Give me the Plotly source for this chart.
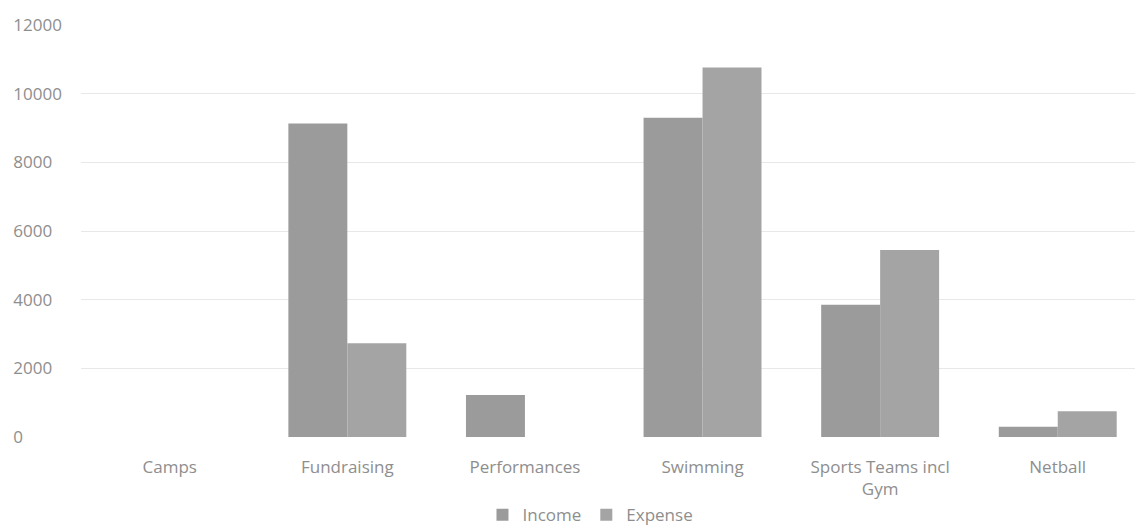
import plotly.graph_objects as go

# Activity income and expense per category
categories = ["Camps", "Fundraising", "Performances", "Swimming", "Sports Teams incl<br>Gym", "Netball"]
income = [0, 9130, 1220, 9300, 3850, 300]
expense = [0, 2730, 0, 10760, 5450, 750]
y_ticks = [0, 2000, 4000, 6000, 8000, 10000, 12000]

W, H = 1136, 530
FONT = "Open Sans"
TEXT = "#8e8e8e"
FS = 17

# left-aligned value labels: pad with figure spaces to a common width
widest = max(len(str(v)) for v in y_ticks)
y_text = [str(v) + "\u2007" * (widest - len(str(v))) for v in y_ticks]

fig = go.Figure()
fig.add_trace(go.Bar(name="Income", x=categories, y=income,
                     marker=dict(color="#9b9b9b", line=dict(width=0))))
fig.add_trace(go.Bar(name="Expense", x=categories, y=expense,
                     marker=dict(color="#a4a4a4", line=dict(width=0))))

fig.update_layout(
    width=W, height=H,
    margin=dict(l=0, r=1, t=25, b=93, autoexpand=False),
    paper_bgcolor="white", plot_bgcolor="white",
    font=dict(family=FONT, size=FS, color=TEXT),
    barmode="group", bargap=0.336, bargroupgap=0,
    showlegend=True,
    legend=dict(orientation="h", x=591 / W, xanchor="center",
                y=-0.19, yanchor="middle",
                font=dict(family=FONT, size=FS, color=TEXT),
                itemwidth=30, tracegroupgap=0),
    xaxis=dict(domain=[81 / W, 1], range=[-0.5, 5.435], automargin=False,
               showgrid=False, zeroline=False, showline=False,
               ticks="", ticklabelstandoff=18,
               tickfont=dict(size=FS, color=TEXT)),
    yaxis=dict(range=[0, 12000], tickvals=y_ticks, ticktext=y_text,
               anchor="free", position=62 / W, automargin=False,
               showgrid=True, gridcolor="#e8e8e8", gridwidth=1,
               zeroline=False, showline=False, ticks="",
               ticklabelstandoff=0,
               tickfont=dict(size=FS, color=TEXT)),
)

fig.write_html("out.html")
